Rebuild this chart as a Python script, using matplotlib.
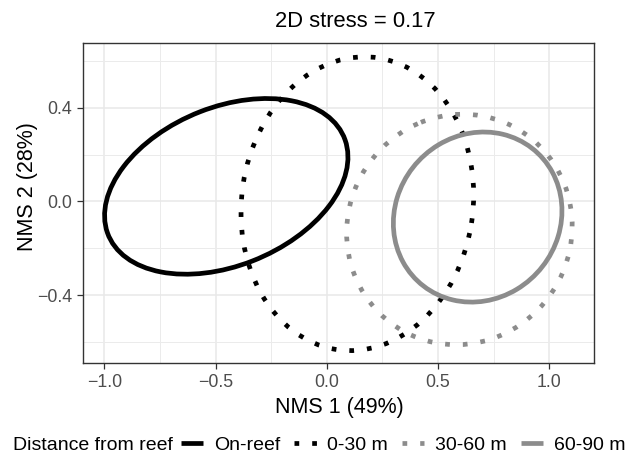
import numpy as np
import matplotlib
matplotlib.use("Agg")
import matplotlib.pyplot as plt
from matplotlib.patches import Ellipse
from matplotlib.lines import Line2D

plt.rcParams["font.family"] = ["Liberation Sans", "DejaVu Sans"]

# ellipse summaries per group (centre, half extents along each axis, correlation)
groups = ["On-reef", "0-30 m", "30-60 m", "60-90 m"]
center_x = [-0.452, 0.137, 0.596, 0.678]
center_y = [0.064, -0.010, -0.120, -0.067]
half_x = [0.547, 0.523, 0.507, 0.379]
half_y = [0.375, 0.627, 0.492, 0.363]
corr = [0.333, 0.06, 0.03, 0.073]

colors = ["black", "black", "#8C8C8C", "#8C8C8C"]
dotted = (0, (1, 2.75))
styles = ["-", dotted, dotted, "-"]

xticks = [-1.0, -0.5, 0.0, 0.5, 1.0]
yticks = [-0.4, 0.0, 0.4]

W, H = 633, 454
fig = plt.figure(figsize=(W / 100, H / 100), dpi=100)
ax = fig.add_axes([83 / W, 1 - 363 / H, (594 - 83) / W, (363 - 43) / H])

lw = 3.4
for cx, cy, sx, sy, r, col, ls in zip(center_x, center_y, half_x, half_y,
                                      corr, colors, styles):
    cov = np.array([[sx * sx, r * sx * sy], [r * sx * sy, sy * sy]])
    vals, vecs = np.linalg.eigh(cov)
    big = vecs[:, 1]
    angle = np.degrees(np.arctan2(big[1], big[0]))
    e = Ellipse((cx, cy), 2 * np.sqrt(vals[1]), 2 * np.sqrt(vals[0]),
                angle=angle, fill=False, edgecolor=col, lw=lw, linestyle=ls,
                capstyle="butt", zorder=3)
    ax.add_patch(e)

ax.set_xlim(-1.096, 1.201)
ax.set_ylim(-0.69, 0.676)
ax.set_xticks(xticks)
ax.set_xticklabels(["\u22121.0", "\u22120.5", "0.0", "0.5", "1.0"])
ax.set_yticks(yticks)
ax.set_yticklabels(["\u22120.4", "0.0", "0.4"])
ax.set_xticks([-0.75, -0.25, 0.25, 0.75], minor=True)
ax.set_yticks([-0.6, -0.2, 0.2, 0.6], minor=True)
ax.grid(True, which="major", color="#E8E8E8", lw=1.1, zorder=0)
ax.grid(True, which="minor", color="#EBEBEB", lw=0.7, zorder=0)
ax.set_axisbelow(True)
ax.tick_params(which="major", length=4, width=0.9, color="#333333",
               labelcolor="#4D4D4D", labelsize=12.8, pad=4)
ax.tick_params(which="minor", length=0)
for s in ax.spines.values():
    s.set_color("#333333")
    s.set_linewidth(1.0)

fig.text(355 / W, 1 - 26.7 / H, "2D stress = 0.17", ha="center",
         va="baseline", fontsize=15.8)
fig.text(339 / W, 1 - 408 / H, "NMS 1 (49%)", ha="center", va="center",
         fontsize=15.5)
fig.text(27 / W, 1 - 187 / H, "NMS 2 (28%)", ha="center", va="center",
         rotation=90, fontsize=15.5)

# legend along the bottom, title inline
fig.text(13 / W, 1 - 445 / H, "Distance from reef", ha="left", va="center",
         fontsize=14)
handles = [Line2D([], [], color=c, lw=lw, linestyle=ls, solid_capstyle="butt",
                  dash_capstyle="butt")
           for c, ls in zip(colors, styles)]
fig.legend(handles, groups, loc="center left", ncol=4, frameon=False,
           bbox_to_anchor=(181 / W, 1 - 445 / H), fontsize=14,
           handlelength=1.15, handletextpad=0.55, columnspacing=0.72,
           borderpad=0, borderaxespad=0)

fig.savefig("out.png", dpi=100)
